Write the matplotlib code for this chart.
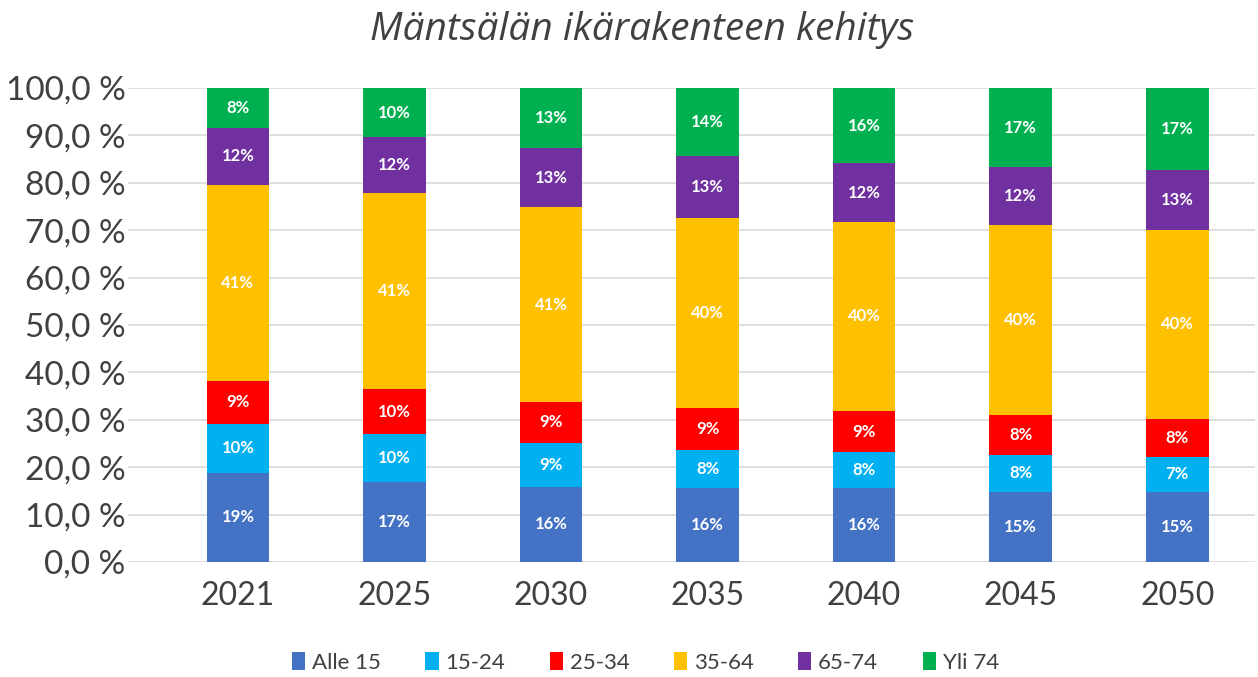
import matplotlib.pyplot as plt
import numpy as np

years = ['2021', '2025', '2030', '2035', '2040', '2045', '2050']
groups = ['Alle 15', '15-24', '25-34', '35-64', '65-74', 'Yli 74']
colors = ['#4472C4', '#00B0F0', '#FF0000', '#FFC000', '#7030A0', '#00B050']

alle15 = [18.8, 16.8, 15.8, 15.6, 15.6, 14.8, 14.8]
v15_24 = [10.4, 10.1, 9.3, 8.0, 7.6, 7.8, 7.4]
v25_34 = [9.0, 9.6, 8.7, 8.9, 8.6, 8.4, 8.0]
v35_64 = [41.4, 41.3, 41.0, 40.1, 40.0, 40.1, 39.9]
v65_74 = [11.9, 11.8, 12.6, 13.0, 12.3, 12.2, 12.6]
yli74 = [8.5, 10.4, 12.6, 14.4, 15.9, 16.7, 17.3]
series = [alle15, v15_24, v25_34, v35_64, v65_74, yli74]

yticks = np.arange(0, 101, 10)
ytick_labels = [f'{t:.1f} %'.replace('.', ',') for t in yticks]

plt.rcParams['font.family'] = ['Lato', 'DejaVu Sans']

fig = plt.figure(figsize=(12.58, 6.77), dpi=100)
ax = fig.add_axes([0.102, 0.170, 0.896, 0.700])

x = np.arange(len(years))
bottom = np.zeros(len(years))
handles = []
for name, vals, col in zip(groups, series, colors):
    vals = np.array(vals)
    b = ax.bar(x, vals, 0.40, bottom=bottom, color=col, label=name, zorder=3)
    handles.append(b)
    for xi, v, bo in zip(x, vals, bottom):
        ax.text(xi, bo + v / 2, f'{v:.0f}%', ha='center', va='center',
                color='white', fontsize=12, fontweight='bold', zorder=4)
    bottom += vals

ax.set_xlim(-0.7, 6.5)
ax.set_ylim(0, 100)
ax.set_yticks(yticks)
ax.set_yticklabels(ytick_labels)
ax.set_xticks(x)
ax.set_xticklabels(years)
ax.tick_params(axis='both', length=0, colors='#404040')
ax.tick_params(axis='y', labelsize=24, pad=2)
ax.tick_params(axis='x', labelsize=23, pad=14)
ax.yaxis.grid(True, color='#D9D9D9', linewidth=1.2, zorder=0)
for s in ax.spines.values():
    s.set_visible(False)

fig.text(0.51, 0.955, 'Mäntsälän ikärakenteen kehitys', ha='center', va='center',
         fontsize=28, style='italic', color='#404040', family=['Open Sans', 'DejaVu Sans'])

fig.legend(handles=handles, labels=groups, loc='center', bbox_to_anchor=(0.513, 0.022),
           ncol=6, frameon=False, fontsize=16, handlelength=0.6, handleheight=0.9,
           handletextpad=0.3, columnspacing=2.0, labelcolor='#404040')

fig.savefig('out.png', dpi=100)
